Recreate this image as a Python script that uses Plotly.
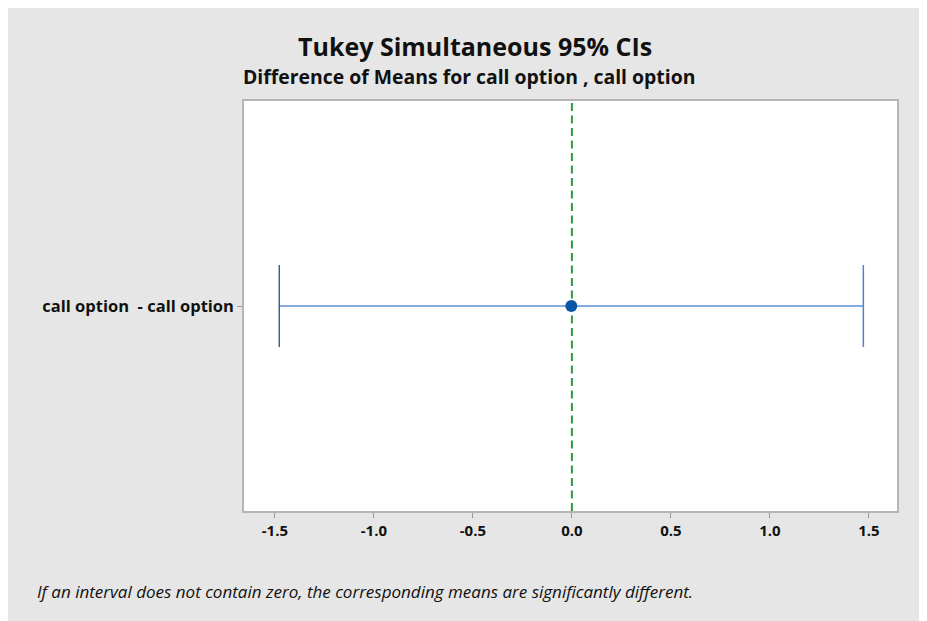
import plotly.graph_objects as go

# Data
comparisons = ["call option  - call option"]
estimates = [-0.003]
lower = [-1.478]
upper = [1.472]
x_tickvals = [-1.5, -1.0, -0.5, 0.0, 0.5, 1.0, 1.5]
x_ticktext = ["-1.5", "-1.0", "-0.5", "0.0", "0.5", "1.0", "1.5"]

W, H = 919, 613
ML, MR, MT, MB = 236, 30, 93, 110
FONT = "Open Sans"
pw = W - ML - MR
ph = H - MT - MB

ypos = list(range(len(comparisons)))
cap = 0.2

fig = go.Figure()

for i, y in enumerate(ypos):
    fig.add_trace(go.Scatter(x=[lower[i], upper[i]], y=[y, y], mode="lines",
                             line=dict(color="#5a8fd4", width=1.5),
                             hoverinfo="skip", showlegend=False))
    fig.add_trace(go.Scatter(x=[lower[i], lower[i]], y=[y - cap, y + cap], mode="lines",
                             line=dict(color="#1d4f8c", width=1.3),
                             hoverinfo="skip", showlegend=False))
    fig.add_trace(go.Scatter(x=[upper[i], upper[i]], y=[y - cap, y + cap], mode="lines",
                             line=dict(color="#4a86d0", width=1.5),
                             hoverinfo="skip", showlegend=False))

fig.add_vline(x=0, line=dict(color="#2a9a40", width=2, dash="8px,4.5px"), layer="below")

fig.add_trace(go.Scatter(x=estimates, y=ypos, mode="markers",
                         marker=dict(color="#0b55a8", size=12),
                         showlegend=False))

fig.update_layout(
    width=W, height=H,
    margin=dict(l=ML, r=MR, t=MT, b=MB),
    paper_bgcolor="#e6e6e6",
    plot_bgcolor="white",
    font=dict(family=FONT, color="#111111"),
    xaxis=dict(
        range=[-1.656, 1.642],
        tickvals=x_tickvals, ticktext=["<b>" + t + "</b>" for t in x_ticktext],
        showgrid=False, zeroline=False,
        showline=True, linecolor="#b5b5b5", linewidth=1.5, mirror=True,
        ticks="outside", ticklen=5, tickcolor="#9a9a9a",
        tickfont=dict(size=15, family=FONT, color="#111111"),
    ),
    yaxis=dict(
        range=[-1, 1],
        tickvals=ypos, ticktext=["<b>" + c + "</b>" for c in comparisons],
        showgrid=False, zeroline=False,
        showline=True, linecolor="#b5b5b5", linewidth=1.5, mirror=True,
        ticks="outside", ticklen=5, tickcolor="#9a9a9a",
        tickfont=dict(size=16.5, family=FONT, color="#111111"),
    ),
)

fig.add_annotation(
    text="<b>Tukey Simultaneous 95% CIs</b>",
    xref="paper", yref="paper", x=(467 - ML) / pw, y=(H - MB - 38) / ph,
    xanchor="center", yanchor="middle", showarrow=False,
    font=dict(size=25, family=FONT, color="#111111"),
)
fig.add_annotation(
    text="<b>Difference of Means for call option , call option</b>",
    xref="paper", yref="paper", x=(460.5 - ML) / pw, y=(H - MB - 69) / ph,
    xanchor="center", yanchor="middle", showarrow=False,
    font=dict(size=19.4, family=FONT, color="#111111"),
)
fig.add_annotation(
    text="<i>If an interval does not contain zero, the corresponding means are significantly different.</i>",
    xref="paper", yref="paper",
    x=-(ML - 27) / pw, y=(H - MB - 583) / ph,
    xanchor="left", yanchor="middle", showarrow=False,
    font=dict(size=17, family=FONT, color="#111111"),
)

fig.write_html("out.html")
